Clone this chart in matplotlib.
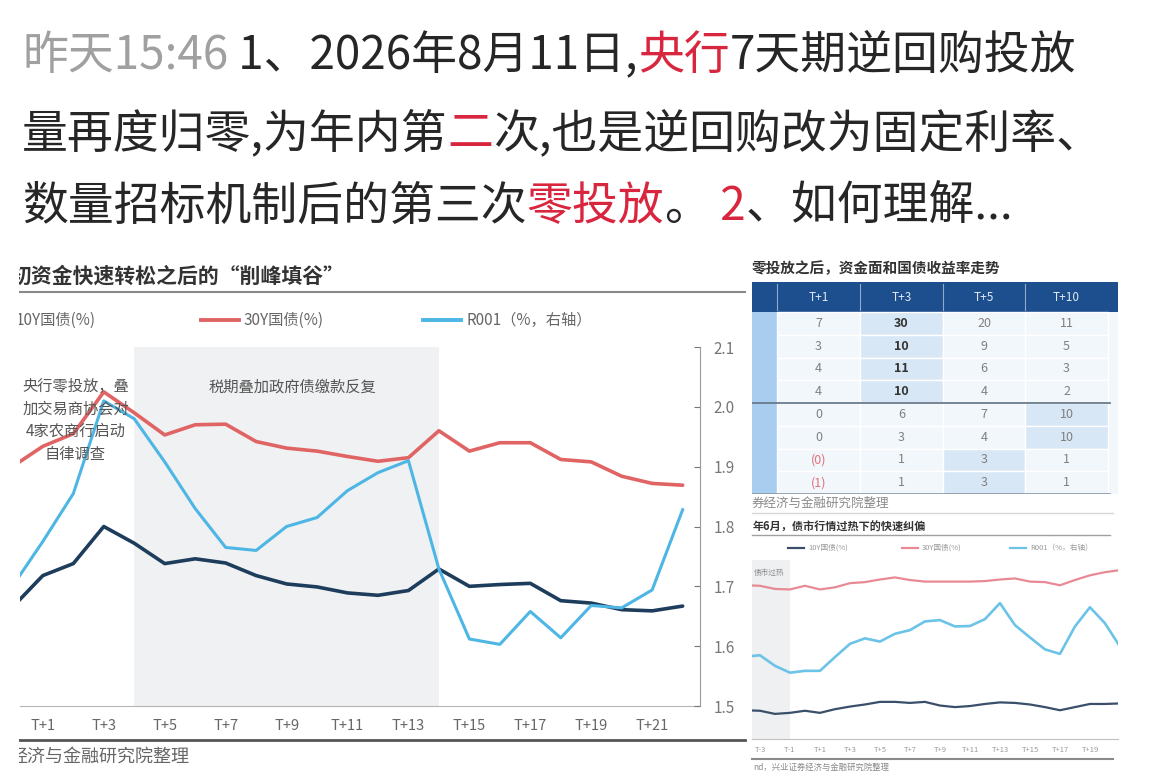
import matplotlib
matplotlib.use("Agg")
import matplotlib.pyplot as plt
from matplotlib.patches import Rectangle

plt.rcParams["font.family"] = ["Noto Sans CJK SC", "DejaVu Sans"]

W, H = 1154, 776

# ---- main chart (T+0 .. T+22) ----
DAYS = list(range(0, 23))
Y10 = [1.665, 1.718, 1.738, 1.800, 1.772, 1.738, 1.746, 1.739, 1.718, 1.704, 1.699, 1.689,
       1.685, 1.693, 1.729, 1.700, 1.703, 1.705, 1.676, 1.672, 1.661, 1.659, 1.667]
Y30 = [1.900, 1.934, 1.955, 2.025, 1.990, 1.953, 1.970, 1.971, 1.942, 1.931, 1.926, 1.917,
       1.909, 1.915, 1.960, 1.926, 1.940, 1.940, 1.912, 1.908, 1.884, 1.872, 1.869]
R001 = [1.700, 1.775, 1.855, 2.010, 1.980, 1.908, 1.830, 1.765, 1.760, 1.800, 1.815, 1.860,
        1.890, 1.910, 1.729, 1.612, 1.603, 1.658, 1.614, 1.668, 1.664, 1.694, 1.828]
MAIN_TICKS = list(range(1, 22, 2))
SHADE = (4, 14)
RIGHT_TICKS = [1.5, 1.6, 1.7, 1.8, 1.9, 2.0, 2.1]

# ---- table ----
TABLE_COLS = ["T+1", "T+3", "T+5", "T+10"]
TABLE_VALUES = [
    ["7", "30", "20", "11"],
    ["3", "10", "9", "5"],
    ["4", "11", "6", "3"],
    ["4", "10", "4", "2"],
    ["0", "6", "7", "10"],
    ["0", "3", "4", "10"],
    ["(0)", "1", "3", "1"],
    ["(1)", "1", "3", "1"],
]

# ---- small chart (T-4 .. T+21) ----
S_DAYS = list(range(-4, 22))
S_Y30 = [1.844, 1.843, 1.837, 1.836, 1.843, 1.836, 1.840, 1.848, 1.850, 1.855, 1.859, 1.854, 1.851,
         1.851, 1.851, 1.851, 1.852, 1.855, 1.857, 1.851, 1.850, 1.844, 1.854, 1.863, 1.869, 1.873]
S_Y10 = [1.605, 1.604, 1.598, 1.600, 1.604, 1.600, 1.607, 1.612, 1.616, 1.621, 1.621, 1.619, 1.621,
         1.614, 1.611, 1.613, 1.617, 1.620, 1.619, 1.616, 1.611, 1.605, 1.611, 1.617, 1.617, 1.618]
S_R001 = [1.380, 1.383, 1.360, 1.345, 1.349, 1.349, 1.379, 1.408, 1.420, 1.413, 1.430, 1.438, 1.457,
          1.460, 1.446, 1.447, 1.462, 1.497, 1.449, 1.422, 1.396, 1.386, 1.446, 1.488, 1.453, 1.402]
S_TICKS = list(range(-3, 20, 2))

C10, C30, CR = "#1e3d5c", "#e06464", "#4db6e4"
SC10, SC30, SCR = "#3a4f6a", "#e88a95", "#6cc3e8"
DARK, GRAY, RED = "#262626", "#a0a0a0", "#d9263f"


def box(x0, y0, x1, y1):
    return [x0 / W, 1 - y1 / H, (x1 - x0) / W, (y1 - y0) / H]


fig = plt.figure(figsize=(W / 100, H / 100), dpi=100)
renderer = fig.canvas.get_renderer()

# ---- headline text with coloured runs ----
LINES = [
    (69, [("昨天15:46", GRAY), (" 1、2026年8月11日,", DARK), ("央行", RED), ("7天期逆回购投放", DARK)]),
    (147, [("量再度归零,为年内第", DARK), ("二", RED), ("次,也是逆回购改为固定利率、", DARK)]),
    (220, [("数量招标机制后的第三次", DARK), ("零投放", RED), ("。", DARK), (" 2", RED), ("、如何理解...", DARK)]),
]
for base, runs in LINES:
    x = 22
    for s, c in runs:
        t = fig.text(x / W, 1 - base / H, s, color=c, fontsize=33, va="baseline", ha="left")
        x = t.get_window_extent(renderer).x1

# ---- main chart ----
ax = fig.add_axes(box(20, 347, 700, 706))
ax.set_xlim(0.25, 22.57)
ax.set_ylim(1.5, 2.1)
ax.axvspan(*SHADE, color="#eff1f2", lw=0)
ax.plot(DAYS, Y10, color=C10, lw=2.6, solid_capstyle="round")
ax.plot(DAYS, Y30, color=C30, lw=2.6, solid_capstyle="round")
ax.set_xticks(MAIN_TICKS)
ax.set_xticklabels([f"T+{d}" for d in MAIN_TICKS])
for s in ["top", "left", "right"]:
    ax.spines[s].set_visible(False)
ax.spines["bottom"].set_color("#b5b5b5")

ax2 = ax.twinx()
ax2.set_ylim(1.5, 2.1)
ax2.plot(DAYS, R001, color=CR, lw=2.2)
ax2.set_yticks(RIGHT_TICKS)
ax2.set_yticklabels([f"{v:.1f}" for v in RIGHT_TICKS])
ax2.tick_params(axis="y", direction="in", length=4, labelsize=11, colors="#777777", pad=10,
                left=False, labelleft=False)
for s in ["top", "left", "bottom"]:
    ax2.spines[s].set_visible(False)
ax2.spines["right"].set_color("#9a9a9a")
# twinx re-enables the left ticks of the host axes, so switch them off afterwards
ax.tick_params(axis="x", length=0, labelsize=10.5, colors="#666666", pad=9)
ax.tick_params(axis="y", left=False, labelleft=False, right=False, labelright=False)

ax2.text(2.07, 2.048, "央行零投放，叠\n加交易商协会对\n4家农商行启动\n自律调查",
         ha="center", va="top", fontsize=11, color="#555555", linespacing=1.42)
ax2.text(9.2, 2.048, "税期叠加政府债缴款反复", ha="center", va="top", fontsize=11, color="#555555")

# ---- small chart ----
sx = fig.add_axes(box(752, 560, 1118, 739))
sx.set_xlim(-3.53, 20.87)
sx.set_ylim(1.55, 1.8923)
sx.axvspan(-3.53, -1.0, color="#eef0f1", lw=0)
sx.plot(S_DAYS, S_Y30, color=SC30, lw=1.6)
sx.plot(S_DAYS, S_Y10, color=SC10, lw=1.6)
sx.set_xticks(S_TICKS)
sx.set_xticklabels([f"T{d:+d}" for d in S_TICKS])
for s in ["top", "left", "right"]:
    sx.spines[s].set_visible(False)
sx.spines["bottom"].set_color("#c0c0c0")
sx2 = sx.twinx()
sx2.set_ylim(1.20, 1.5913)
sx2.plot(S_DAYS, S_R001, color=SCR, lw=1.9)
sx2.set_yticks([])
for s in ["top", "left", "right", "bottom"]:
    sx2.spines[s].set_visible(False)
sx.set_yticks([])
sx.tick_params(axis="x", length=0, labelsize=5.5, colors="#999999", pad=5)

# ---- table ----
tax = fig.add_axes(box(752, 282, 1118, 494))
tax.set_xlim(752, 1118)
tax.set_ylim(494, 282)
tax.axis("off")
col_edges = [752, 777, 860, 943, 1025, 1108, 1118]
head_bottom = 312
row_h = (494 - head_bottom) / len(TABLE_VALUES)
highlight = {(r, 1) for r in range(4)} | {(4, 3), (5, 3), (6, 2), (7, 2)}
tax.add_patch(Rectangle((752, 282), 366, head_bottom - 282, color="#1d4f8f", lw=0))
for j, name in enumerate(TABLE_COLS):
    x0, x1 = col_edges[j + 1], col_edges[j + 2]
    tax.text((x0 + x1) / 2, (282 + head_bottom) / 2, name, ha="center", va="center",
             fontsize=8.5, color="#dfe8f2")
    tax.plot([x0, x0], [284, head_bottom - 2], color="#8fa9c9", lw=0.8)
for i, row in enumerate(TABLE_VALUES):
    y0 = head_bottom + i * row_h
    tax.add_patch(Rectangle((752, y0), 25, row_h, color="#a8cdee", lw=0))
    tax.add_patch(Rectangle((1108, y0), 10, row_h, color="#f2f7fc", lw=0))
    for j, val in enumerate(row):
        x0, x1 = col_edges[j + 1], col_edges[j + 2]
        face = "#d8e7f5" if (i, j) in highlight else "#f2f7fc"
        tax.add_patch(Rectangle((x0, y0), x1 - x0, row_h, facecolor=face,
                                edgecolor="white", lw=1.0))
        bold = i < 4 and j == 1
        color = "#e0707a" if val.startswith("(") else ("#333333" if bold else "#808080")
        tax.text((x0 + x1) / 2, y0 + row_h / 2, val, ha="center", va="center", fontsize=9,
                 color=color, fontweight="bold" if bold else "normal")
tax.plot([752, 1110], [head_bottom + 4 * row_h] * 2, color="#6b7b8c", lw=1.3)
tax.plot([752, 1110], [494, 494], color="#8796a5", lw=1.2)

# ---- overlay: titles, legends, sources ----
ov = fig.add_axes([0, 0, 1, 1], zorder=5)
ov.set_xlim(0, W)
ov.set_ylim(H, 0)
ov.axis("off")
ov.patch.set_alpha(0)

ov.text(11, 276, "初资金快速转松之后的“削峰填谷”", fontsize=15, fontweight="bold",
        color="#333333", va="center")
ov.plot([19, 745], [292, 292], color="#8a8a8a", lw=1.5)
for label, color, x in [("10Y国债(%)", C10, -27), ("30Y国债(%)", C30, 201), ("R001（%，右轴）", CR, 423)]:
    ov.plot([x, x + 38], [320, 320], color=color, lw=2.8)
    ov.text(x + 43, 320, label, fontsize=11, color="#666666", va="center")
ov.plot([19, 745], [740, 740], color="#555555", lw=2)
ov.text(9, 757, "经济与金融研究院整理", fontsize=13, color="#666666", va="center")
# cropped left edge of the screenshot
ov.add_patch(Rectangle((0, 250), 19, 526, color="white", lw=0, zorder=10))

ov.text(752, 268, "零投放之后，资金面和国债收益率走势", fontsize=10.5, fontweight="bold",
        color="#333333", va="center")
ov.text(752, 503, "券经济与金融研究院整理", fontsize=9, color="#8a8a8a", va="center")
ov.plot([752, 1113], [513, 513], color="#d8d8d8", lw=1)
ov.text(753, 527, "年6月，债市行情过热下的快速纠偏", fontsize=8, fontweight="bold",
        color="#333333", va="center")
ov.plot([752, 1110], [535, 535], color="#a0a0a0", lw=1)
for label, color, x in [("10Y国债(%)", SC10, 788), ("30Y国债(%)", SC30, 902), ("R001（%，右轴）", SCR, 1010)]:
    ov.plot([x, x + 16], [548, 548], color=color, lw=1.6)
    ov.text(x + 20, 548, label, fontsize=5.5, color="#999999", va="center")
ov.text(754, 573, "债市过热", fontsize=5.5, color="#888888", va="center")
ov.plot([752, 1113], [759, 759], color="#8a8a8a", lw=1.5)
ov.text(753, 767, "nd，兴业证券经济与金融研究院整理", fontsize=6, color="#8a8a8a", va="center")

fig.savefig("out.png", dpi=100)
